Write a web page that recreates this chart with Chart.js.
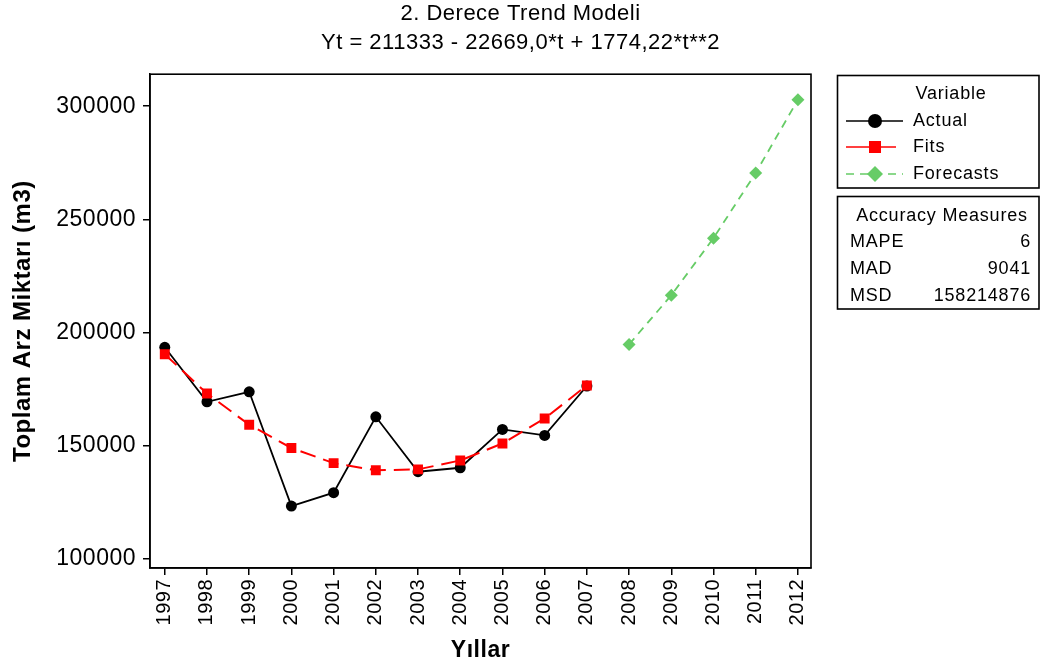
<!DOCTYPE html>
<html>
<head>
<meta charset="utf-8">
<title>2. Derece Trend Modeli</title>
<script src="https://cdn.jsdelivr.net/npm/chart.js@4.4.1/dist/chart.umd.min.js"></script>
<style>
  html, body { margin: 0; padding: 0; background: #ffffff; }
  #wrap { width: 1041px; height: 666px; position: relative; }
  canvas { display: block; }
</style>
</head>
<body>
<div id="wrap"><canvas id="chart" width="1041" height="666"></canvas></div>
<script>
// Observed yearly supply, fitted quadratic trend and forecasts
const years = [1997, 1998, 1999, 2000, 2001, 2002, 2003, 2004, 2005, 2006, 2007];
const actual = [193500, 169450, 173850, 123400, 129300, 162800, 138550, 140300, 157250, 154600, 176400];
const fits = [190438, 173092, 159294, 149045, 142344, 139191, 139587, 143531, 151024, 162065, 176655];
const forecastYears = [2008, 2009, 2010, 2011, 2012];
const forecasts = [194793, 216479, 241714, 270498, 302829];

// Axis ticks
const xTicks = [1997, 1998, 1999, 2000, 2001, 2002, 2003, 2004, 2005, 2006, 2007, 2008, 2009, 2010, 2011, 2012];
const yTicks = [100000, 150000, 200000, 250000, 300000];

// Accuracy table
const measureNames = ['MAPE', 'MAD', 'MSD'];
const measureValues = ['6', '9041', '158214876'];

const FONT = '"Liberation Sans", Arial, Helvetica, sans-serif';
const GREEN = '#66cc66';

const pairs = (xs, ys) => xs.map((x, i) => ({ x: x, y: ys[i] }));

// Slightly wider glyph spacing for all library-drawn text
const spacingPlugin = {
  id: 'spacing',
  beforeLayout(chart) { chart.ctx.letterSpacing = '0.5px'; },
  beforeDraw(chart) { chart.ctx.letterSpacing = '0.5px'; }
};

// Frame around the plotting area
const framePlugin = {
  id: 'frame',
  afterDatasetsDraw(chart) {
    const { ctx, chartArea: a } = chart;
    ctx.save();
    ctx.strokeStyle = '#000';
    ctx.lineWidth = 1.6;
    ctx.strokeRect(a.left, a.top, a.right - a.left, a.bottom - a.top);
    ctx.restore();
  }
};

// Legend box and accuracy measures box on the right
const sidePlugin = {
  id: 'side',
  afterDraw(chart) {
    const ctx = chart.ctx;
    ctx.save();
    ctx.letterSpacing = '0.8px';
    ctx.font = '18px ' + FONT;
    ctx.fillStyle = '#000';
    ctx.strokeStyle = '#000';
    ctx.lineWidth = 1.6;
    ctx.strokeRect(837.5, 75.5, 201.5, 112.5);
    ctx.strokeRect(837.5, 196.5, 201.5, 112.5);

    ctx.textBaseline = 'middle';
    ctx.textAlign = 'center';
    ctx.fillText('Variable', 951, 94);

    const ds = chart.data.datasets;
    const rows = [
      { d: ds.find(d => d.label === 'Actual'), y: 121, x1: 846, x2: 903, dash: [], r: 7 },
      { d: ds.find(d => d.label === 'Fits'), y: 147, x1: 846, x2: 896, dash: [], r: 6 },
      { d: ds.find(d => d.label === 'Forecasts'), y: 174, x1: 846, x2: 903, dash: [8, 6], r: 8 }
    ];
    rows.forEach(row => {
      const d = row.d;
      ctx.save();
      ctx.strokeStyle = d.borderColor;
      ctx.lineWidth = 1.6;
      ctx.setLineDash(row.dash);
      ctx.beginPath();
      ctx.moveTo(row.x1, row.y);
      ctx.lineTo(row.x2, row.y);
      ctx.stroke();
      ctx.restore();
      const cx = 875;
      ctx.fillStyle = d.pointBackgroundColor;
      ctx.beginPath();
      if (d.pointStyle === 'circle') {
        ctx.arc(cx, row.y, row.r, 0, Math.PI * 2);
      } else if (d.pointStyle === 'rect') {
        ctx.rect(cx - row.r, row.y - row.r, row.r * 2, row.r * 2);
      } else {
        ctx.moveTo(cx, row.y - row.r);
        ctx.lineTo(cx + row.r, row.y);
        ctx.lineTo(cx, row.y + row.r);
        ctx.lineTo(cx - row.r, row.y);
        ctx.closePath();
      }
      ctx.fill();
      ctx.fillStyle = '#000';
      ctx.textAlign = 'left';
      ctx.fillText(d.label, 913, row.y);
    });

    ctx.textAlign = 'center';
    ctx.fillText('Accuracy Measures', 942, 216);
    measureNames.forEach((name, i) => {
      const y = 242 + i * 27;
      ctx.textAlign = 'left';
      ctx.fillText(name, 850, y);
      ctx.textAlign = 'right';
      ctx.fillText(measureValues[i], 1031, y);
    });
    ctx.restore();
  }
};

new Chart(document.getElementById('chart'), {
  type: 'line',
  data: {
    datasets: [
      {
        label: 'Actual',
        data: pairs(years, actual),
        borderColor: '#000000',
        backgroundColor: '#000000',
        pointBackgroundColor: '#000000',
        pointBorderColor: '#000000',
        borderWidth: 1.8,
        pointStyle: 'circle',
        pointRadius: 5.5,
        pointBorderWidth: 0,
        order: 1
      },
      {
        label: 'Fits',
        data: pairs(years, fits),
        borderColor: '#ff0000',
        backgroundColor: '#ff0000',
        pointBackgroundColor: '#ff0000',
        pointBorderColor: '#ff0000',
        borderWidth: 2,
        borderDash: [16, 8],
        pointStyle: 'rect',
        pointRadius: 7,
        pointBorderWidth: 0,
        order: 0
      },
      {
        label: 'Forecasts',
        data: pairs(forecastYears, forecasts),
        borderColor: GREEN,
        backgroundColor: GREEN,
        pointBackgroundColor: GREEN,
        pointBorderColor: GREEN,
        borderWidth: 1.8,
        borderDash: [8, 6],
        pointStyle: 'rectRot',
        pointRadius: 6.5,
        pointBorderWidth: 0,
        order: 2
      }
    ]
  },
  options: {
    responsive: false,
    animation: false,
    events: [],
    layout: { padding: 0 },
    plugins: {
      legend: { display: false },
      tooltip: { enabled: false },
      title: {
        display: true,
        text: ['2. Derece Trend Modeli', 'Yt = 211333 - 22669,0*t + 1774,22*t**2'],
        color: '#000',
        font: { family: FONT, size: 22, weight: 'normal', lineHeight: 1.3 },
        padding: { top: 0, bottom: 17 }
      }
    },
    scales: {
      x: {
        type: 'linear',
        min: 1996.65,
        max: 2012.31,
        afterBuildTicks: s => { s.ticks = xTicks.map(v => ({ value: v })); },
        afterFit: s => { s.height = 98; },
        ticks: {
          color: '#000',
          autoSkip: false,
          minRotation: 90,
          maxRotation: 90,
          padding: 4,
          font: { family: FONT, size: 20 },
          callback: v => String(v)
        },
        grid: { drawOnChartArea: false, drawTicks: true, tickLength: 7, color: '#000', lineWidth: 1.5 },
        border: { display: true, color: '#000', width: 1.5 },
        title: {
          display: true,
          text: 'Yıllar',
          color: '#000',
          font: { family: FONT, size: 23, weight: 'bold', lineHeight: 1.2 },
          padding: { top: 0, bottom: 2 }
        }
      },
      y: {
        type: 'linear',
        position: 'left',
        min: 96026,
        max: 314128,
        afterBuildTicks: s => { s.ticks = yTicks.map(v => ({ value: v })); },
        afterFit: s => { s.width = 150; },
        ticks: {
          color: '#000',
          padding: 7,
          font: { family: FONT, size: 23 },
          callback: v => String(v)
        },
        grid: { drawOnChartArea: false, drawTicks: true, tickLength: 7, color: '#000', lineWidth: 1.5 },
        border: { display: true, color: '#000', width: 1.5 },
        title: {
          display: true,
          text: 'Toplam Arz Miktarı (m3)',
          color: '#000',
          font: { family: FONT, size: 24, weight: 'bold', lineHeight: 1.2 },
          padding: { top: 9, bottom: 0 }
        }
      },
      side: {
        type: 'linear',
        position: 'right',
        display: true,
        afterFit: s => { s.width = 230; },
        ticks: { display: false },
        grid: { display: false, drawTicks: false },
        border: { display: false }
      }
    }
  },
  plugins: [spacingPlugin, framePlugin, sidePlugin]
});
</script>
</body>
</html>
